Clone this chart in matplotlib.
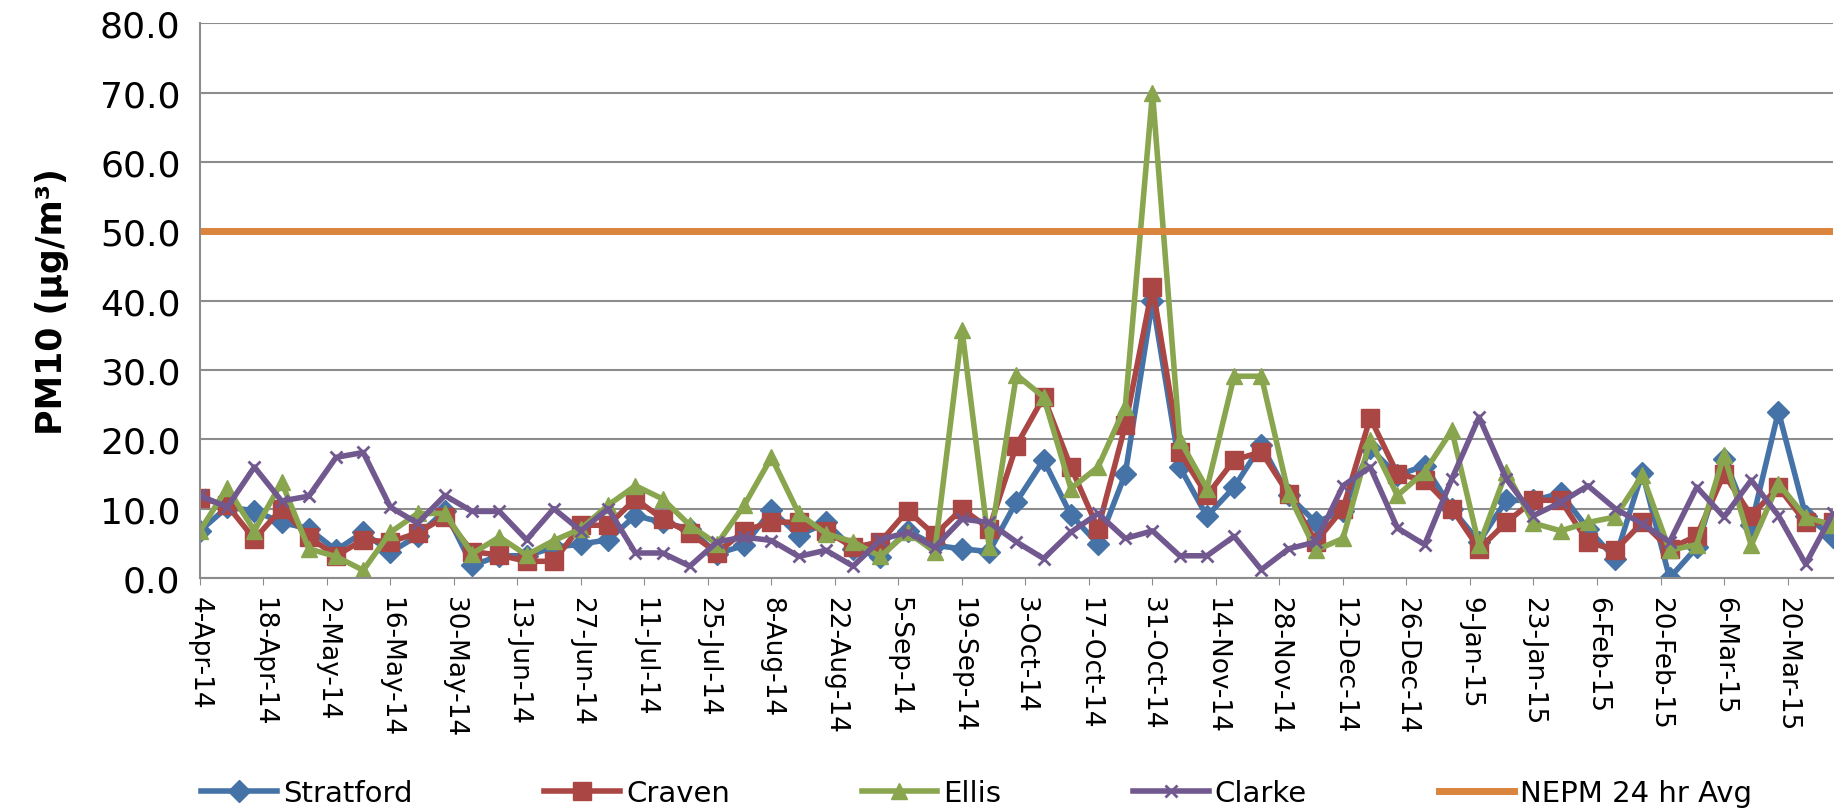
import matplotlib
matplotlib.use('Agg')
import matplotlib.pyplot as plt
import pandas as pd

# sampling every 6 days from 4-Apr-14 (61 samples)
start_date = '2014-04-04'
n_samples = 61
dates = pd.date_range(start_date, periods=n_samples, freq='6D')

stratford = [6.8, 10.2, 9.7, 8.0, 7.1, 4.0, 6.6, 3.7, 6.1, 9.7, 1.8, 3.2,
             3.2, 4.4, 4.9, 5.5, 9.0, 8.0, 7.1, 3.5, 4.7, 9.8, 6.1, 8.0,
             4.2, 3.0, 6.8, 4.7, 4.2, 3.8, 11.0, 17.0, 9.1, 4.9, 15.0, 40.0,
             16.0, 8.9, 13.1, 19.2, 11.9, 8.0, 9.7, 18.7, 14.8, 16.2, 10.0, 5.2,
             11.2, 11.2, 12.2, 7.1, 2.8, 15.2, 0.0, 4.4, 17.2, 7.6, 24.0, 9.0,
             5.9]
craven = [11.5, 10.5, 5.6, 10.0, 5.9, 3.2, 5.5, 5.2, 6.5, 8.8, 3.8, 3.3,
          2.4, 2.4, 7.6, 7.6, 11.4, 8.5, 6.5, 3.6, 6.8, 8.1, 8.0, 6.8,
          4.4, 5.2, 9.7, 6.2, 10.0, 7.1, 19.1, 26.1, 16.0, 7.1, 22.0, 42.0,
          18.2, 11.9, 17.0, 18.2, 12.1, 5.2, 10.0, 23.1, 15.0, 14.1, 10.0, 4.2,
          8.0, 11.2, 11.2, 5.2, 4.0, 8.0, 4.2, 6.1, 15.0, 9.0, 13.1, 8.0,
          8.0]
ellis = [6.8, 13.0, 6.8, 13.8, 4.2, 3.1, 1.1, 6.6, 9.3, 9.3, 3.5, 5.9,
         3.3, 5.4, 7.1, 10.5, 13.3, 11.4, 7.6, 4.9, 10.5, 17.4, 9.3, 6.4,
         5.2, 3.1, 6.6, 3.8, 35.8, 4.4, 29.3, 26.1, 12.9, 16.0, 24.7, 70.0,
         19.9, 12.9, 29.1, 29.1, 12.1, 4.0, 5.7, 19.9, 11.9, 15.3, 21.3, 4.7,
         15.3, 7.9, 6.8, 8.0, 8.8, 14.8, 4.0, 4.8, 17.7, 4.7, 13.6, 8.8,
         7.6]
clarke = [11.9, 10.2, 16.0, 11.1, 11.8, 17.4, 18.1, 10.2, 7.9, 11.9, 9.6, 9.6,
          5.5, 10.0, 6.8, 10.0, 3.6, 3.6, 1.7, 5.2, 5.9, 5.4, 3.1, 4.0,
          1.7, 5.5, 6.6, 4.4, 8.5, 8.0, 5.2, 2.8, 6.6, 9.3, 5.7, 6.8,
          3.2, 3.2, 6.0, 1.2, 4.2, 5.2, 13.3, 16.0, 7.2, 4.8, 14.3, 23.2,
          14.3, 9.0, 10.9, 13.3, 10.0, 7.8, 5.2, 13.1, 8.8, 14.1, 9.0, 2.0,
          9.3]
nepm_limit = [50.0] * n_samples

series_names = ['Stratford', 'Craven', 'Ellis', 'Clarke', 'NEPM 24 hr Avg']

fig = plt.figure(figsize=(18.43, 8.12), dpi=100)
ax = fig.add_axes([0.1085, 0.287, 0.886, 0.683])

ax.plot(dates, stratford, color='#4572A7', lw=4, marker='D', ms=11, label=series_names[0])
ax.plot(dates, craven, color='#AA4643', lw=4, marker='s', ms=13, label=series_names[1])
ax.plot(dates, ellis, color='#89A54E', lw=4, marker='^', ms=11, label=series_names[2])
ax.plot(dates, clarke, color='#71588F', lw=4, marker='x', ms=9, mew=2, label=series_names[3])
ax.plot(dates, nepm_limit, color='#DB843D', lw=5, label=series_names[4])

ax.set_ylim(0, 80)
ax.set_yticks(range(0, 81, 10))
ax.yaxis.set_major_formatter(matplotlib.ticker.FormatStrFormatter('%.1f'))
ax.grid(axis='y', color='#8c8c8c', lw=1.5)
ax.set_axisbelow(True)

ax.set_xlim(dates[0], dates[-1])
tick_dates = pd.date_range(start_date, '2015-03-20', freq='14D')
ax.set_xticks(tick_dates)
ax.set_xticklabels([f"{d.day}-{d:%b-%y}" for d in tick_dates], rotation=270,
                   fontsize=19, va='top', ha='center')

for s in ['top', 'right']:
    ax.spines[s].set_visible(False)
for s in ['left', 'bottom']:
    ax.spines[s].set_color('#8c8c8c')
    ax.spines[s].set_linewidth(1.5)
ax.tick_params(axis='y', labelsize=26, length=0, pad=14)
ax.tick_params(axis='x', length=5, color='#8c8c8c', pad=8)

ax.set_ylabel('PM10 (µg/m³)', fontsize=25, fontweight='bold', labelpad=22)

fig.legend(loc='center', bbox_to_anchor=(0.095, 0.0, 0.87, 0.045), mode='expand',
           ncol=5, frameon=False, handlelength=2.6, handletextpad=0.2,
           prop={'family': 'DejaVu Sans', 'size': 21})

plt.savefig('out.png', dpi=100)
